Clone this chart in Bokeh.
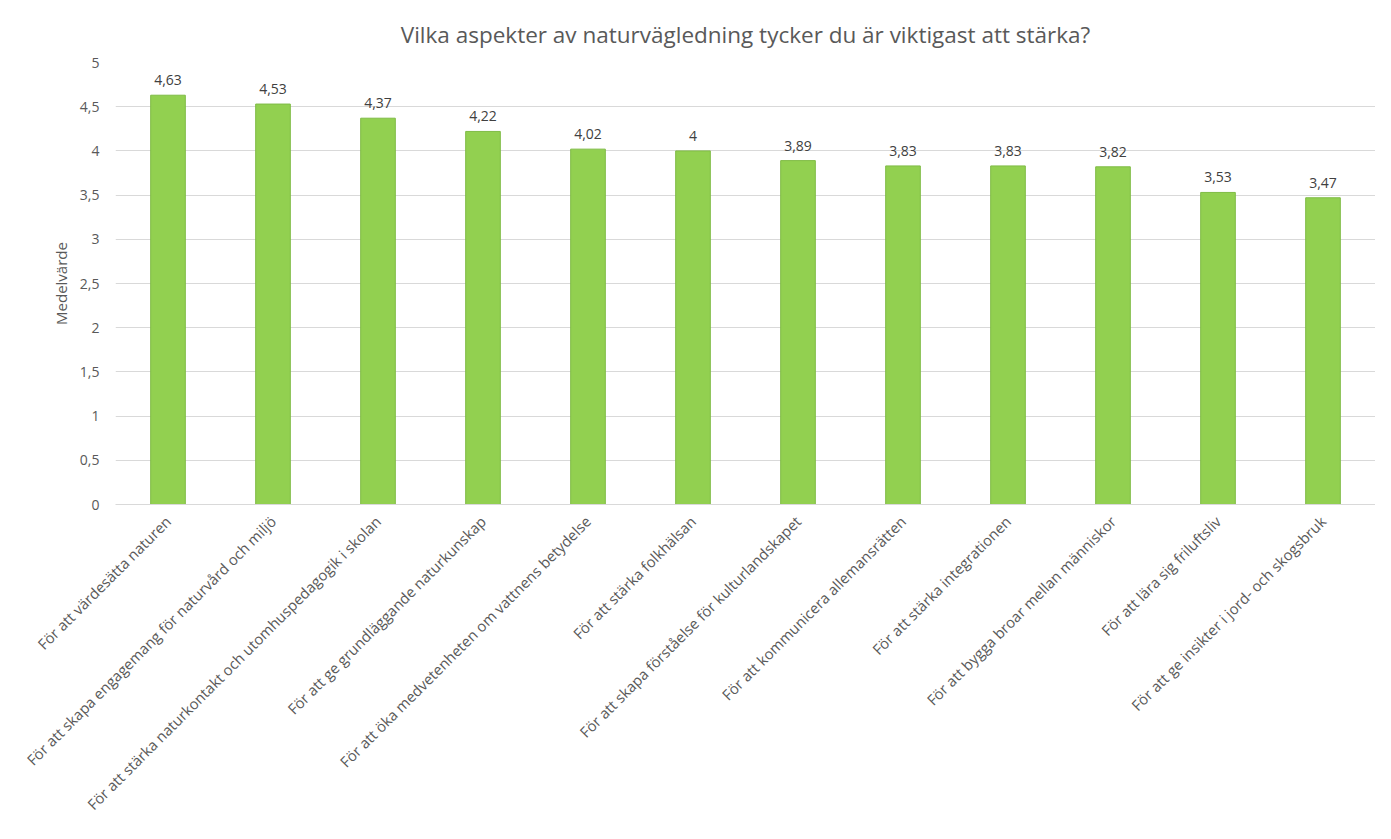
import math
from bokeh.plotting import figure
from bokeh.models import ColumnDataSource, FactorRange, Range1d, CustomJSTickFormatter, SingleIntervalTicker
from bokeh.core.properties import value
from bokeh.embed import file_html
from bokeh.resources import INLINE

categories = [
    "För att värdesätta naturen",
    "För att skapa engagemang för naturvård och miljö",
    "För att stärka naturkontakt och utomhuspedagogik i skolan",
    "För att ge grundläggande naturkunskap",
    "För att öka medvetenheten om vattnens betydelse",
    "För att stärka folkhälsan",
    "För att skapa förståelse för kulturlandskapet",
    "För att kommunicera allemansrätten",
    "För att stärka integrationen",
    "För att bygga broar mellan människor",
    "För att lära sig friluftsliv",
    "För att ge insikter i jord- och skogsbruk",
]
values = [4.63, 4.53, 4.37, 4.22, 4.02, 4.0, 3.89, 3.83, 3.83, 3.82, 3.53, 3.47]
title_text = "Vilka aspekter av naturvägledning tycker du är viktigast att stärka?"
y_label = "Medelvärde"

labels = ["{:g}".format(v).replace(".", ",") for v in values]
source = ColumnDataSource(dict(cat=categories, val=values, lab=labels))

FONT = "Open Sans"
GREY = "#595959"

p = figure(
    x_range=FactorRange(*categories, range_padding=0),
    y_range=Range1d(0, 5),
    width=1375, height=823,
    output_backend="svg", toolbar_location=None,
    title=title_text,
    min_border_left=115, min_border_right=0, min_border_top=62, min_border_bottom=0,
)
p.title.align = "center"
p.title.text_font = FONT
p.title.text_font_size = "22.5px"
p.title.text_font_style = "normal"
p.title.text_color = GREY
p.title.offset = 0
p.title.standoff = 26

p.vbar(x="cat", top="val", width=0.33, source=source,
       fill_color="#92D050", line_color="#7fbb45", line_width=1)

p.text(x="cat", y="val", text="lab", source=source,
       text_align="center", text_baseline="bottom", y_offset=-10,
       text_font=value(FONT), text_font_size="14px", text_color="#404040")

p.outline_line_color = None
p.xgrid.grid_line_color = None
p.ygrid.grid_line_color = "#d9d9d9"
p.yaxis.ticker = SingleIntervalTicker(interval=0.5)
p.yaxis.formatter = CustomJSTickFormatter(code="return tick.toString().replace('.', ',');")
p.yaxis.axis_line_color = None
p.yaxis.major_tick_line_color = None
p.yaxis.minor_tick_line_color = None
p.yaxis.axis_label = y_label
p.yaxis.axis_label_text_font = FONT
p.yaxis.axis_label_text_font_size = "15px"
p.yaxis.axis_label_text_font_style = "normal"
p.yaxis.axis_label_text_color = GREY
p.yaxis.axis_label_standoff = 6
p.yaxis.major_label_standoff = 10

p.xaxis.axis_line_color = "#d9d9d9"
p.xaxis.major_tick_line_color = None
p.xaxis.minor_tick_line_color = None
p.xaxis.major_label_orientation = math.pi / 4
p.xaxis.major_label_standoff = 8

for ax in (p.xaxis, p.yaxis):
    ax.major_label_text_font = FONT
    ax.major_label_text_color = GREY
p.xaxis.major_label_text_font_size = "14.8px"
p.yaxis.major_label_text_font_size = "14px"

open("out.html", "w").write(file_html(p, INLINE))
